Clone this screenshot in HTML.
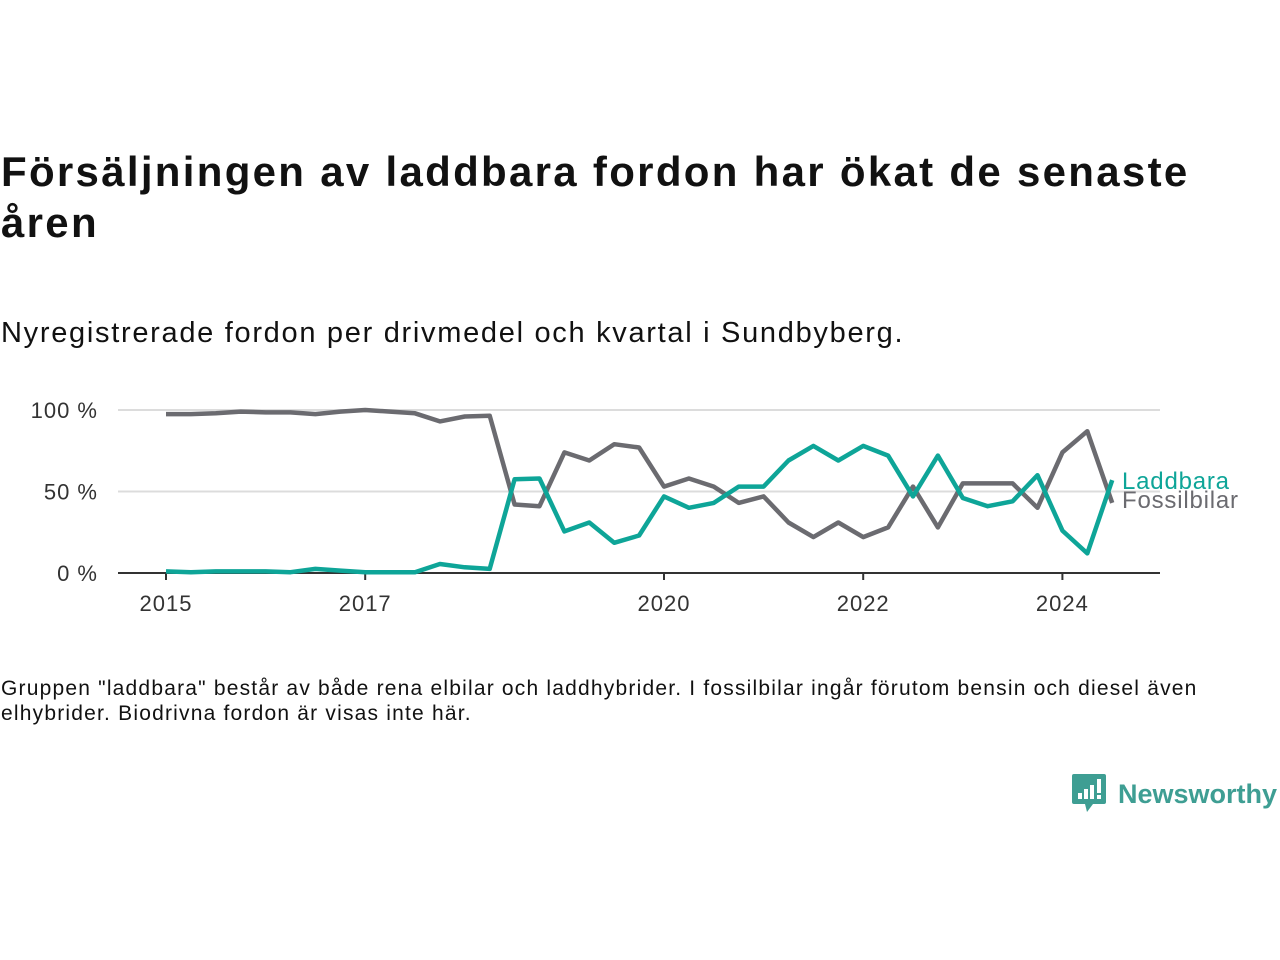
<!DOCTYPE html>
<html><head><meta charset="utf-8">
<style>
body{margin:0;width:1280px;height:960px;background:#fff;font-family:"Liberation Sans",sans-serif;color:#111;position:relative;overflow:hidden}
#title{position:absolute;left:1px;top:146px;font-size:42px;font-weight:bold;line-height:51px;margin:0;width:1279px;letter-spacing:2.3px;white-space:nowrap}
#sub{position:absolute;left:1px;top:317px;font-size:29px;margin:0;letter-spacing:1.7px;white-space:nowrap}
#note{position:absolute;left:1px;top:676px;font-size:21px;line-height:25px;width:1270px;margin:0;letter-spacing:1.2px}
#logo{position:absolute;left:1072px;top:774px;display:flex;align-items:center}
#logo span{font-size:27px;font-weight:bold;color:#3e9e93;margin-left:12px}
svg{position:absolute;left:0;top:0}
</style></head><body>
<h1 id="title">Försäljningen av laddbara fordon har ökat de senaste<br>åren</h1>
<p id="sub">Nyregistrerade fordon per drivmedel och kvartal i Sundbyberg.</p>
<svg id="chart" width="1280" height="960"></svg>
<p id="note">Gruppen "laddbara" består av både rena elbilar och laddhybrider. I fossilbilar ingår förutom bensin och diesel även<br>elhybrider. Biodrivna fordon är visas inte här.</p>
<div id="logo">
<svg style="position:static" width="34" height="40" viewBox="0 0 34 40"><path d="M2 0h30a2 2 0 0 1 2 2v26a2 2 0 0 1-2 2H21l-6 8-2-8H2a2 2 0 0 1-2-2V2a2 2 0 0 1 2-2z" fill="#3e9e93"/><rect x="6" y="19" width="4" height="6" fill="#fff"/><rect x="12" y="15" width="4" height="10" fill="#fff"/><rect x="18" y="11" width="4" height="14" fill="#fff"/><rect x="25" y="5" width="4" height="14" fill="#fff"/><rect x="25" y="21" width="4" height="4" fill="#fff"/></svg>
<span>Newsworthy</span></div>
<script>
const quarters = 39; // 2015Q1..2024Q3
const laddbara = [1,0.5,1,1,1,0.5,2.5,1.5,0.5,0.5,0.5,5.5,3.5,2.5,57.5,58,25.5,31,18.5,23,47,40,43,53,53,69,78,69,78,72,47,72,46,41,44,60,26,12,57];
const fossil = [97.5,97.5,98,99,98.5,98.5,97.5,99,100,99,98,93,96,96.5,42,41,74,69,79,77,53,58,53,43,47,31,22,31,22,28,53,28,55,55,55,40,74,87,43];
const yTicks = [0,50,100];
const xTicks = [2015,2017,2020,2022,2024];
const NS='http://www.w3.org/2000/svg';
const svg=document.getElementById('chart');
const x0=166, perYear=99.6, L=118, R=1160;
const xs = t => x0 + t*perYear;
const ys = v => 573 - v*1.63;
function el(tag,attrs,txt){const e=document.createElementNS(NS,tag);for(const k in attrs)e.setAttribute(k,attrs[k]);if(txt!=null)e.textContent=txt;svg.appendChild(e);return e;}
yTicks.forEach(v=>{
  if(v>0){const g=el('line',{x1:L,x2:R,y1:ys(v),y2:ys(v),stroke:'#dcdcdc','stroke-width':2});
  
  }
  const t=el('text',{x:98,y:ys(v)+8,'text-anchor':'end','font-size':22,'letter-spacing':1,fill:'#333','font-family':'Liberation Sans, sans-serif'},v+' %');
  
  
});
const ax=el('line',{x1:L,x2:R,y1:573,y2:573,stroke:'#333','stroke-width':2});


xTicks.forEach(yr=>{
  const x=xs(yr-2015);
  const tk=el('line',{x1:x,x2:x,y1:573,y2:580,stroke:'#333','stroke-width':2});
  
  
  const t=el('text',{x:x,y:611,'text-anchor':'middle','font-size':22,'letter-spacing':1,fill:'#333','font-family':'Liberation Sans, sans-serif'},yr);
  
  
});
function line(data,color,name){
  const d=data.map((v,i)=>(i?'L':'M')+xs(i/4).toFixed(1)+' '+ys(v).toFixed(1)).join(' ');
  const p=el('path',{d:d,fill:'none',stroke:color,'stroke-width':4.5,'stroke-linejoin':'round'});
  
  
}
line(fossil,'#6b6b70','fossilbilar-line');
line(laddbara,'#0ea598','laddbara-line');
const l1=el('text',{x:1122,y:489,'font-size':24,'letter-spacing':0.8,fill:'#0ea598','font-family':'Liberation Sans, sans-serif'},'Laddbara');


const l2=el('text',{x:1122,y:508,'font-size':24,'letter-spacing':0.8,fill:'#6b6b70','font-family':'Liberation Sans, sans-serif'},'Fossilbilar');


</script>
</body></html>
